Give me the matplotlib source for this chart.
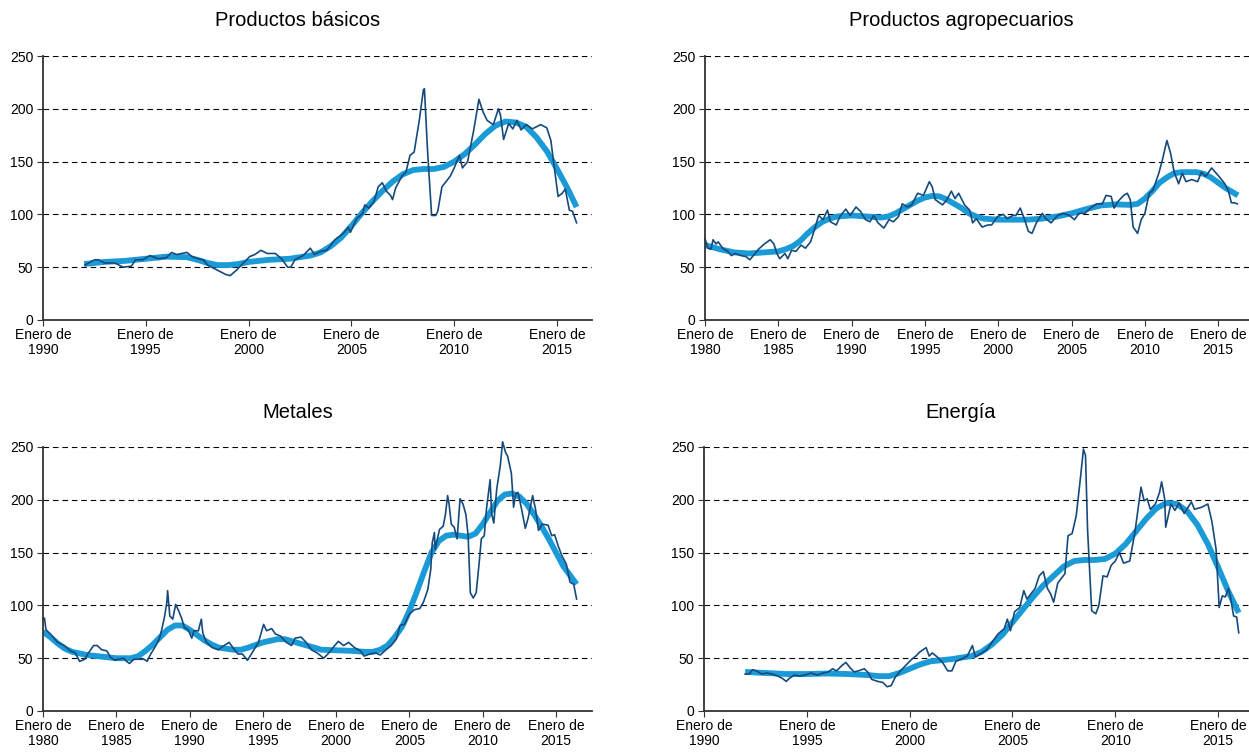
import matplotlib
matplotlib.use("Agg")
import matplotlib.pyplot as plt
import numpy

plt.rcParams["font.family"] = ["Liberation Sans", "DejaVu Sans"]

# Productos básicos
basicos_x = [1992.04, 1992.5, 1992.7, 1993.0, 1993.5, 1993.9, 1994.3, 1994.5, 1994.85, 1995.2, 1995.6, 1996.0,
             1996.25, 1996.5, 1997.0, 1997.25, 1997.55, 1997.8, 1998.0, 1998.4, 1998.9, 1999.1, 1999.4, 1999.65,
             2000.05, 2000.3, 2000.6, 2000.9, 2001.3, 2001.6, 2001.9, 2002.05, 2002.25, 2002.65, 2003.0, 2003.2,
             2003.5, 2003.8, 2004.2, 2004.6, 2004.85, 2004.95, 2005.25, 2005.55, 2005.65, 2005.85, 2006.1, 2006.3,
             2006.5, 2006.7, 2006.9, 2007.0, 2007.15, 2007.45, 2007.65, 2007.85, 2008.05, 2008.3, 2008.5, 2008.55,
             2008.7, 2008.9, 2009.1, 2009.2, 2009.4, 2009.6, 2009.8, 2010.0, 2010.25, 2010.4, 2010.65, 2010.95,
             2011.2, 2011.4, 2011.6, 2011.9, 2012.15, 2012.25, 2012.4, 2012.65, 2012.85, 2013.05, 2013.25, 2013.5,
             2013.8, 2014.2, 2014.5, 2014.7, 2014.85, 2015.05, 2015.25, 2015.4, 2015.6, 2015.75, 2015.95]
basicos_y = [52, 57, 57, 54, 54, 50, 51, 57, 57, 61, 58, 59,
             64, 62, 64, 60, 58, 57, 52, 48, 43, 42, 47, 52,
             60, 62, 66, 63, 63, 58, 50, 50, 57, 61, 68, 62,
             65, 66, 76, 82, 88, 83, 96, 101, 109, 106, 112, 126,
             130, 122, 118, 114, 125, 136, 140, 156, 159, 189, 218, 219,
             161, 99, 99, 103, 126, 131, 136, 144, 156, 144, 150, 180,
             209, 197, 189, 185, 200, 194, 171, 186, 181, 189, 180, 185,
             181, 185, 182, 170, 147, 117, 120, 124, 104, 103, 92]
basicos_trend_x = [1992.0, 1993, 1994, 1995, 1996, 1997, 1997.5, 1998, 1998.5, 1999, 1999.5, 2000, 2001, 2002,
                   2003, 2003.5, 2004, 2004.5, 2005, 2005.5, 2006, 2006.5, 2007, 2007.5, 2008, 2008.5, 2009,
                   2009.5, 2010, 2010.5, 2011, 2011.5, 2012, 2012.5, 2013, 2013.5, 2014, 2014.5, 2015, 2015.5,
                   2015.95]
basicos_trend_y = [53, 55, 56, 58, 60, 59.5, 57, 54, 52, 52, 53, 55, 57, 58,
                   61, 64, 70, 78, 89, 101, 112, 122, 131, 138, 142, 143, 143,
                   145, 150, 157, 166, 176, 184, 188, 187, 183, 173, 160, 143, 125,
                   107]

# Productos agropecuarios
agro_x = [1980.0, 1980.2, 1980.4, 1980.55, 1980.75, 1980.9, 1981.2, 1981.55, 1981.8, 1982.05, 1982.45, 1982.8,
          1983.05, 1983.3, 1983.65, 1984.05, 1984.45, 1984.7, 1984.9, 1985.1, 1985.45, 1985.65, 1985.9, 1986.2,
          1986.55, 1986.85, 1987.2, 1987.5, 1987.75, 1988.05, 1988.35, 1988.55, 1988.95, 1989.2, 1989.6, 1989.9,
          1990.3, 1990.6, 1990.95, 1991.25, 1991.5, 1991.8, 1992.2, 1992.55, 1992.85, 1993.2, 1993.45, 1993.8,
          1994.1, 1994.5, 1994.9, 1995.3, 1995.5, 1995.7, 1996.2, 1996.5, 1996.8, 1997.05, 1997.3, 1997.7,
          1998.05, 1998.25, 1998.5, 1998.9, 1999.3, 1999.55, 1999.95, 2000.35, 2000.6, 2001.0, 2001.2, 2001.5,
          2001.8, 2002.05, 2002.3, 2002.6, 2003.0, 2003.25, 2003.6, 2004.05, 2004.45, 2004.85, 2005.2, 2005.5,
          2005.9, 2006.3, 2006.7, 2007.1, 2007.35, 2007.7, 2007.9, 2008.15, 2008.55, 2008.8, 2009.0, 2009.2,
          2009.5, 2009.75, 2010.0, 2010.3, 2010.55, 2010.95, 2011.2, 2011.5, 2011.75, 2012.0, 2012.3, 2012.55,
          2012.8, 2013.2, 2013.6, 2013.85, 2014.15, 2014.55, 2014.8, 2015.05, 2015.45, 2015.7, 2015.9, 2016.1,
          2016.3]
agro_y = [77, 68, 67, 76, 72, 74, 68, 65, 61, 63, 61, 60,
          57, 61, 67, 72, 76, 72, 63, 58, 63, 58, 66, 65,
          71, 68, 74, 87, 99, 95, 104, 93, 90, 98, 105, 99,
          107, 103, 95, 93, 99, 92, 87, 95, 93, 98, 110, 107,
          109, 120, 118, 131, 126, 114, 109, 114, 122, 115, 120, 109,
          104, 92, 96, 88, 90, 90, 98, 100, 96, 99, 99, 106,
          95, 84, 82, 92, 101, 96, 92, 99, 101, 99, 95, 101,
          101, 106, 110, 110, 118, 117, 106, 112, 118, 120, 114, 88,
          82, 95, 101, 120, 123, 139, 152, 170, 158, 140, 129, 139,
          131, 133, 131, 140, 136, 144, 140, 136, 129, 122, 111, 111,
          110]
agro_trend_x = [1980, 1981, 1982, 1983, 1984, 1985, 1985.5, 1986, 1986.5, 1987, 1987.5, 1988, 1988.5, 1989,
                1990, 1991, 1992, 1992.5, 1993, 1993.5, 1994, 1994.5, 1995, 1995.5, 1996, 1996.5, 1997,
                1997.5, 1998, 1998.5, 1999, 2000, 2001, 2002, 2003, 2004, 2005, 2006, 2007, 2008, 2009,
                2009.5, 2010, 2010.5, 2011, 2011.5, 2012, 2012.5, 2013, 2013.5, 2014, 2014.5, 2015, 2015.5,
                2016.35]
agro_trend_y = [71, 67, 64, 63, 64, 65, 67, 70, 75, 82, 88, 93, 96, 98,
                99, 98, 97, 98, 101, 105, 109, 113, 116, 117.5, 117, 114, 110,
                106, 101, 98, 96, 95, 95, 95, 96, 98, 101, 105, 108.5, 109.5, 109,
                110, 115, 122, 130, 135, 139, 140, 140, 140, 138.5, 135, 130, 125,
                118]

# Metales
metales_x = [1980.0, 1980.1, 1980.2, 1980.5, 1980.75, 1981.0, 1981.45, 1981.85, 1982.2, 1982.5, 1982.85, 1983.1,
             1983.45, 1983.7, 1984.0, 1984.35, 1984.6, 1984.9, 1985.15, 1985.5, 1985.7, 1985.9, 1986.2, 1986.55,
             1986.9, 1987.1, 1987.35, 1987.7, 1987.95, 1988.1, 1988.3, 1988.45, 1988.5, 1988.65, 1988.85, 1989.05,
             1989.25, 1989.45, 1989.65, 1989.9, 1990.15, 1990.3, 1990.6, 1990.8, 1990.9, 1991.15, 1991.55, 1991.95,
             1992.35, 1992.7, 1992.95, 1993.3, 1993.6, 1993.95, 1994.3, 1994.7, 1995.05, 1995.25, 1995.6, 1995.85,
             1996.2, 1996.6, 1996.95, 1997.2, 1997.6, 1997.95, 1998.3, 1998.7, 1999.15, 1999.5, 1999.9, 2000.15,
             2000.5, 2000.85, 2001.25, 2001.65, 2001.9, 2002.3, 2002.7, 2003.0, 2003.4, 2003.75, 2004.1, 2004.35,
             2004.65, 2005.0, 2005.35, 2005.7, 2005.95, 2006.25, 2006.45, 2006.55, 2006.7, 2006.75, 2007.05, 2007.3,
             2007.45, 2007.6, 2007.7, 2007.85, 2008.05, 2008.25, 2008.45, 2008.65, 2008.85, 2009.0, 2009.15, 2009.35,
             2009.55, 2009.75, 2009.9, 2010.1, 2010.25, 2010.5, 2010.6, 2010.75, 2010.95, 2011.2, 2011.35, 2011.55,
             2011.7, 2011.95, 2012.1, 2012.25, 2012.4, 2012.65, 2012.9, 2013.1, 2013.4, 2013.6, 2013.8, 2014.05,
             2014.45, 2014.7, 2014.9, 2015.15, 2015.4, 2015.7, 2015.95, 2016.2, 2016.4]
metales_y = [87, 88, 77, 73, 69, 65, 62, 57, 55, 47, 49, 55,
             62, 62, 58, 57, 51, 48, 49, 50, 47, 45, 49, 49,
             49, 47, 54, 62, 69, 77, 90, 103, 114, 90, 87, 101,
             95, 88, 79, 77, 69, 76, 76, 87, 74, 65, 60, 58,
             62, 65, 60, 54, 54, 48, 56, 65, 82, 76, 78, 73,
             71, 65, 62, 69, 70, 65, 58, 55, 50, 55, 62, 66,
             62, 65, 60, 57, 52, 54, 55, 53, 58, 62, 68, 81,
             82, 92, 96, 97, 103, 115, 134, 159, 169, 153, 172, 175,
             186, 204, 196, 177, 174, 163, 201, 196, 186, 166, 112, 107,
             112, 140, 163, 166, 191, 219, 187, 178, 210, 233, 255, 245,
             241, 225, 193, 206, 207, 191, 173, 183, 204, 191, 171, 177,
             176, 166, 167, 156, 147, 139, 122, 120, 106]
metales_trend_x = [1980, 1980.5, 1981, 1981.5, 1982, 1983, 1984, 1985, 1986, 1986.5, 1987, 1987.5, 1988, 1988.5,
                   1989, 1989.5, 1990, 1990.5, 1991, 1991.5, 1992, 1993, 1993.5, 1994, 1995, 1996, 1996.5, 1997,
                   1998, 1999, 2000, 2001, 2002, 2002.5, 2003, 2003.5, 2004, 2004.5, 2005, 2005.5, 2006, 2006.5,
                   2007, 2007.5, 2008, 2008.5, 2009, 2009.5, 2010, 2010.5, 2011, 2011.5, 2012, 2012.5, 2013,
                   2013.5, 2014, 2014.5, 2015, 2015.5, 2016.4]
metales_trend_y = [75, 70, 64, 59, 56, 53, 51.5, 50, 50, 52, 57, 63, 70, 77,
                   81, 81, 77, 72, 67, 63, 60, 58, 58, 60, 65, 68, 68, 66,
                   62, 58, 57.5, 57, 56, 56, 58, 62, 70, 80, 95, 113, 132, 150,
                   161, 166, 167, 166, 165, 168, 177, 188, 199, 205, 206, 203, 196,
                   186, 175, 163, 150, 137, 120]

# Energía
energia_x = [1992.0, 1992.2, 1992.35, 1992.55, 1992.8, 1993.05, 1993.3, 1993.6, 1993.8, 1994.0, 1994.15, 1994.4,
             1994.65, 1994.9, 1995.2, 1995.5, 1995.8, 1996.05, 1996.25, 1996.45, 1996.7, 1996.9, 1997.1, 1997.3,
             1997.5, 1997.8, 1998.0, 1998.15, 1998.45, 1998.7, 1998.9, 1999.1, 1999.3, 1999.55, 1999.85, 2000.1,
             2000.3, 2000.5, 2000.8, 2000.95, 2001.1, 2001.35, 2001.6, 2001.85, 2002.05, 2002.25, 2002.5, 2002.8,
             2003.05, 2003.2, 2003.5, 2003.75, 2004.0, 2004.3, 2004.6, 2004.75, 2004.9, 2005.1, 2005.35, 2005.55,
             2005.7, 2005.9, 2006.1, 2006.3, 2006.5, 2006.7, 2006.85, 2007.0, 2007.2, 2007.35, 2007.55, 2007.7,
             2007.9, 2008.1, 2008.3, 2008.45, 2008.55, 2008.65, 2008.85, 2009.05, 2009.2, 2009.4, 2009.6, 2009.8,
             2010.0, 2010.2, 2010.4, 2010.7, 2010.95, 2011.25, 2011.4, 2011.55, 2011.7, 2011.95, 2012.15, 2012.25,
             2012.4, 2012.45, 2012.7, 2012.9, 2013.1, 2013.35, 2013.7, 2013.85, 2014.2, 2014.5, 2014.7, 2014.9,
             2015.05, 2015.2, 2015.35, 2015.5, 2015.6, 2015.75, 2015.9, 2016.0]
energia_y = [35, 35, 39, 38, 35, 36, 35, 33, 31, 28, 31, 34,
             33, 34, 36, 34, 36, 37, 40, 38, 43, 46, 41, 37,
             38, 40, 36, 30, 28, 27, 23, 24, 32, 38, 44, 49,
             52, 56, 60, 52, 55, 51, 46, 38, 38, 47, 49, 52,
             62, 51, 55, 58, 65, 73, 78, 87, 76, 94, 98, 114,
             106, 111, 116, 128, 132, 116, 111, 103, 121, 125, 130, 166,
             168, 185, 220, 248, 242, 172, 95, 92, 100, 128, 127, 138,
             142, 150, 140, 142, 169, 212, 199, 201, 191, 196, 207, 217,
             201, 174, 196, 190, 197, 187, 198, 191, 193, 196, 179, 153,
             98, 109, 108, 116, 108, 90, 89, 74]
energia_trend_x = [1992.0, 1993, 1994, 1995, 1996, 1997, 1998, 1998.5, 1999, 1999.5, 2000, 2000.5, 2001, 2002,
                   2003, 2003.5, 2004, 2004.5, 2005, 2005.5, 2006, 2006.5, 2007, 2007.5, 2008, 2008.5, 2009,
                   2009.5, 2010, 2010.5, 2011, 2011.5, 2012, 2012.5, 2013, 2013.5, 2014, 2014.5, 2015, 2015.5,
                   2016.0]
energia_trend_y = [37, 36, 35, 35, 35.5, 35, 34, 33, 33, 36, 40, 44, 47, 49,
                   52, 56, 63, 72, 84, 96, 108, 119, 128, 137, 142, 143, 143,
                   144, 149, 158, 170, 182, 192, 197, 196, 189, 176, 158, 136, 113,
                   93]

DARK = "#174a7c"
LIGHT = "#1a9ad6"

W, H = 1249, 752
fig = plt.figure(figsize=(W / 100, H / 100), dpi=100)

panels = [
    ("Productos básicos", basicos_x, basicos_y, basicos_trend_x, basicos_trend_y,
     1990, 2016.7, (43, 592, 56, 320), 298, 20),
    ("Productos agropecuarios", agro_x, agro_y, agro_trend_x, agro_trend_y,
     1980, 2017.1, (705, 1249, 56, 320), 961, 20),
    ("Metales", metales_x, metales_y, metales_trend_x, metales_trend_y,
     1980, 2017.45, (43, 592, 447, 711), 298, 412),
    ("Energía", energia_x, energia_y, energia_trend_x, energia_trend_y,
     1990, 2016.5, (704, 1249, 447, 711), 961, 412),
]

for title, x, y, tx, ty, x0, x1, box, title_x, title_y in panels:
    left, right, top, bottom = box
    ax = fig.add_axes([left / W, 1 - bottom / H, (right - left) / W, (bottom - top) / H])
    ax.plot(tx, ty, color=LIGHT, lw=4.2, solid_capstyle="butt", zorder=2)
    # the metals spike pokes a little above 250 in the original
    ax.plot(x, y, color=DARK, lw=1.2, zorder=3, clip_on=False)
    ax.set_xlim(x0, x1)
    ax.set_ylim(0, 250)
    ax.set_yticks(numpy.arange(0, 251, 50))
    years = numpy.arange(x0, 2016, 5)
    ax.set_xticks(years)
    ax.set_xticklabels(["Enero de\n%d" % yr for yr in years], fontsize=10, linespacing=1.05)
    ax.tick_params(axis="y", labelsize=10, length=4, color="#333333", pad=3)
    ax.tick_params(axis="x", length=4, color="#333333", pad=2)
    for v in range(50, 251, 50):
        ax.axhline(v, color="black", lw=0.8, ls=(0, (5, 3.5)), zorder=1)
    ax.spines["top"].set_visible(False)
    ax.spines["right"].set_visible(False)
    ax.spines["left"].set_color("#333333")
    ax.spines["bottom"].set_color("#333333")
    ax.spines["left"].set_linewidth(1.3)
    ax.spines["bottom"].set_linewidth(1.3)
    ax.spines["left"].set_zorder(4)
    fig.text(title_x / W, 1 - title_y / H, title, ha="center", va="center", fontsize=14.5)

fig.savefig("out.png", dpi=100)
